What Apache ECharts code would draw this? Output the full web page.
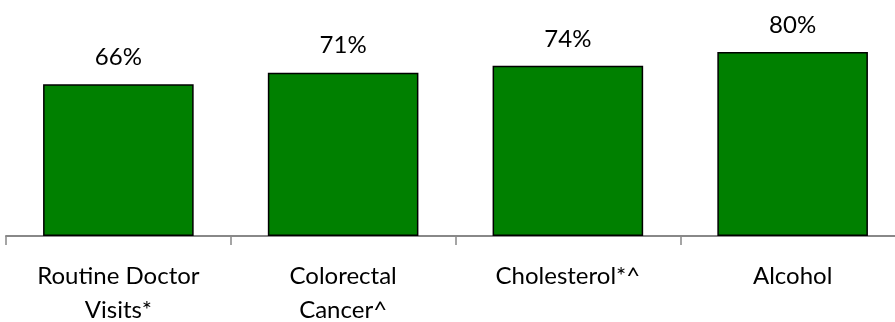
<!DOCTYPE html>
<html>
<head>
<meta charset="utf-8">
<style>
  html, body { margin: 0; padding: 0; background: #ffffff; overflow: hidden; }
  #wrap { width: 895px; height: 322px; overflow: hidden; }
  #chart { width: 905px; height: 322px; }
</style>
<script src="https://cdn.jsdelivr.net/npm/echarts@6/dist/echarts.min.js"></script>
</head>
<body>
<div id="wrap"><div id="chart"></div></div>
<script>
// Screening categories and the share of respondents for each (percent)
const categories = ['Routine Doctor\nVisits*', 'Colorectal\nCancer^', 'Cholesterol*^', 'Alcohol'];
const percentValues = [66, 71, 74, 80];

const chart = echarts.init(document.getElementById('chart'), null, { renderer: 'canvas' });

chart.setOption({
  animation: false,
  grid: {
    left: 6, top: 6, right: 0, height: 230,
    containLabel: false,
    outerBoundsMode: 'none'
  },
  xAxis: {
    type: 'category',
    data: categories,
    axisLine: { lineStyle: { color: '#888888', width: 2 } },
    axisTick: { show: true, length: 9, lineStyle: { color: '#888888', width: 1.5 } },
    axisLabel: {
      color: '#000000',
      fontFamily: 'Lato',
      fontSize: 24,
      lineHeight: 34,
      margin: 23,
      interval: 0
    }
  },
  yAxis: {
    type: 'value',
    min: 0,
    max: 100,
    show: false
  },
  series: [{
    type: 'bar',
    data: percentValues,
    barWidth: '67%',
    itemStyle: { color: '#008000', borderColor: '#000000', borderWidth: 1.5 },
    label: {
      show: true,
      position: 'top',
      distance: 15,
      color: '#000000',
      fontFamily: 'Lato',
      fontSize: 24,
      formatter: p => p.value + '%'
    }
  }]
});
</script>
</body>
</html>
